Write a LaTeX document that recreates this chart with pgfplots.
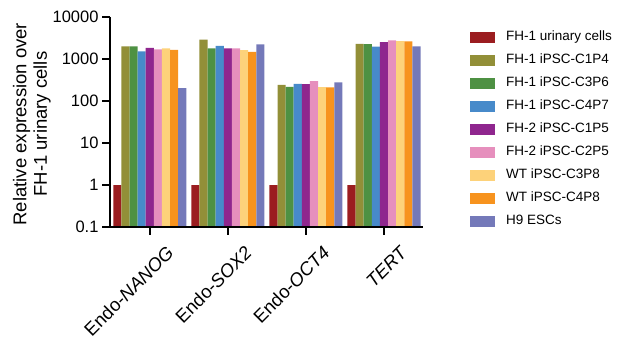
\documentclass[border=0pt]{standalone}
\usepackage{fontspec}
\setmainfont{Liberation Sans}
\usepackage{pgfplots}
\pgfplotsset{compat=1.18}
\definecolor{c1}{HTML}{9B1D20}
\definecolor{c2}{HTML}{928F38}
\definecolor{c3}{HTML}{4E9143}
\definecolor{c4}{HTML}{478ACA}
\definecolor{c5}{HTML}{8F268E}
\definecolor{c6}{HTML}{E68FBD}
\definecolor{c7}{HTML}{FDD27A}
\definecolor{c8}{HTML}{F7931E}
\definecolor{c9}{HTML}{7479B9}
\begin{document}
\begin{tikzpicture}
\begin{axis}[
  name=ax,
  at={(0,0)}, anchor=south west,
  scale only axis, width=313pt, height=210pt,
  ymode=log, ymin=0.1, ymax=10000, log origin=infty,
  xmin=-0.51, xmax=3.5,
  ybar=0pt, bar width=0.104,
  axis line style={draw=none},
  major tick style={draw=none},
  xtick={0,1,2,3},
  xticklabels={Endo-\textit{NANOG}, Endo-\textit{SOX2}, Endo-\textit{OCT4}, \textit{TERT}},
  xticklabel style={rotate=45, anchor=north east, xshift=5pt, yshift=-17pt, font=\fontsize{18.5}{20}\selectfont},
  ytick={0.1,1,10,100,1000,10000},
  yticklabels={0.1,1,10,100,1000,10000},
  yticklabel style={xshift=-8pt, font=\fontsize{16.5}{18}\selectfont},
  xtick pos=left, ytick pos=left,
  yminorticks=false,
  every axis y label/.style={at={(axis description cs:-0.25,0.49)}, rotate=90, anchor=center, align=center, font=\fontsize{18.5}{20.5}\selectfont},
  ylabel={Relative expression over\\FH-1 urinary cells},
  legend style={at={(1.150,0.935)}, anchor=north west, draw=none, fill=none, inner sep=0pt, row sep=10pt,
    font=\fontsize{13.5}{15}\selectfont, nodes={inner sep=0pt, anchor=west, text height=10pt, text depth=3pt}},
  legend cell align=left,
  /tikz/every odd column/.append style={column sep=11pt},
]
\addplot[draw=none, fill=c1, legend image code/.code={\fill[c1] (0pt,-5.5pt) rectangle (25pt,5.5pt);}] coordinates {(0,1) (1,1) (2,1) (3,1)};
\addplot[draw=none, fill=c2, legend image code/.code={\fill[c2] (0pt,-5.5pt) rectangle (25pt,5.5pt);}] coordinates {(0,2000) (1,2880) (2,243) (3,2300)};
\addplot[draw=none, fill=c3, legend image code/.code={\fill[c3] (0pt,-5.5pt) rectangle (25pt,5.5pt);}] coordinates {(0,2000) (1,1800) (2,217) (3,2250)};
\addplot[draw=none, fill=c4, legend image code/.code={\fill[c4] (0pt,-5.5pt) rectangle (25pt,5.5pt);}] coordinates {(0,1520) (1,2050) (2,257) (3,1960)};
\addplot[draw=none, fill=c5, legend image code/.code={\fill[c5] (0pt,-5.5pt) rectangle (25pt,5.5pt);}] coordinates {(0,1850) (1,1790) (2,252) (3,2510)};
\addplot[draw=none, fill=c6, legend image code/.code={\fill[c6] (0pt,-5.5pt) rectangle (25pt,5.5pt);}] coordinates {(0,1700) (1,1790) (2,298) (3,2760)};
\addplot[draw=none, fill=c7, legend image code/.code={\fill[c7] (0pt,-5.5pt) rectangle (25pt,5.5pt);}] coordinates {(0,1800) (1,1620) (2,214) (3,2650)};
\addplot[draw=none, fill=c8, legend image code/.code={\fill[c8] (0pt,-5.5pt) rectangle (25pt,5.5pt);}] coordinates {(0,1650) (1,1480) (2,210) (3,2620)};
\addplot[draw=none, fill=c9, legend image code/.code={\fill[c9] (0pt,-5.5pt) rectangle (25pt,5.5pt);}] coordinates {(0,202) (1,2220) (2,277) (3,2000)};
\legend{FH-1 urinary cells, FH-1 iPSC-C1P4, FH-1 iPSC-C3P6, FH-1 iPSC-C4P7, FH-2 iPSC-C1P5, FH-2 iPSC-C2P5, WT iPSC-C3P8, WT iPSC-C4P8, H9 ESCs}
\coordinate (xt0) at (axis cs:0,0.1);
\coordinate (xt1) at (axis cs:1,0.1);
\coordinate (xt2) at (axis cs:2,0.1);
\coordinate (xt3) at (axis cs:3,0.1);
\coordinate (xend) at (axis cs:3.5,0.1);
\coordinate (yt0) at (axis cs:-0.51,0.1);
\coordinate (yt1) at (axis cs:-0.51,1);
\coordinate (yt2) at (axis cs:-0.51,10);
\coordinate (yt3) at (axis cs:-0.51,100);
\coordinate (yt4) at (axis cs:-0.51,1000);
\coordinate (yt5) at (axis cs:-0.51,10000);
\end{axis}
\draw[line width=1.8pt] (yt5) -- (yt0) -- (xend);
\draw[line width=1.8pt] (xt0) -- ++(0,-8pt);
\draw[line width=1.8pt] (xt1) -- ++(0,-8pt);
\draw[line width=1.8pt] (xt2) -- ++(0,-8pt);
\draw[line width=1.8pt] (xt3) -- ++(0,-8pt);
\draw[line width=1.8pt] (yt0) -- ++(-8pt,0);
\draw[line width=1.8pt] (yt1) -- ++(-8pt,0);
\draw[line width=1.8pt] (yt2) -- ++(-8pt,0);
\draw[line width=1.8pt] (yt3) -- ++(-8pt,0);
\draw[line width=1.8pt] (yt4) -- ++(-8pt,0);
\draw[line width=1.8pt] (yt5) -- ++(-8pt,0);
\path (-110pt,-110pt) rectangle (514pt,227pt);
\end{tikzpicture}
\end{document}
